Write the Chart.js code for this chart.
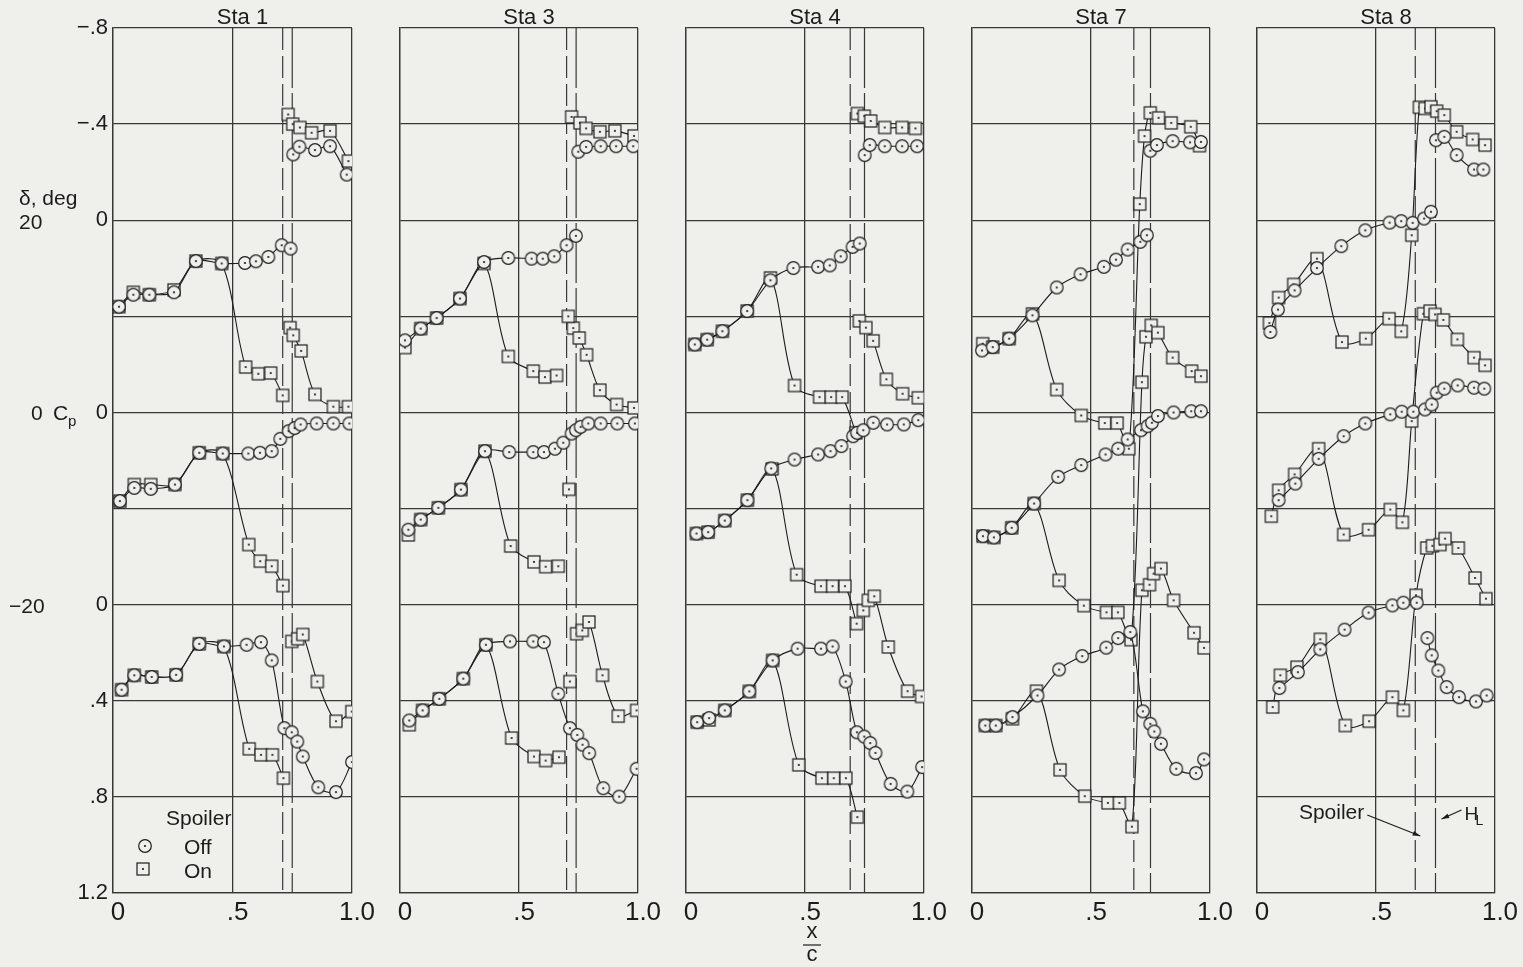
<!DOCTYPE html>
<html>
<head>
<meta charset="utf-8">
<script src="https://cdn.jsdelivr.net/npm/chart.js@4.4.0/dist/chart.umd.min.js"></script>
<style>
  html, body { margin: 0; padding: 0; background: #efefec; }
  body { width: 1523px; height: 967px; position: relative; overflow: hidden; }
  .panel { position: absolute; top: 0; height: 967px; }
</style>
</head>
<body>
<script>
// station names, x/c ticks, Cp ticks (stacked: delta 20 / 0 / -20, 0.8 apart)
const stationNames = ["Sta 1", "Sta 3", "Sta 4", "Sta 7", "Sta 8"]
const xTickValues = [0, 0.5, 1]
const xTickText = ["0", ".5", "1.0"]
const cpTickValues = [-0.8, -0.4, 0, 0.8, 1.6, 2.0, 2.4, 2.8]
const cpTickText = ["\u2212.8", "\u2212.4", "0", "0", "0", ".4", ".8", "1.2"]
const deltaShift = [0, 0.8, 1.6]   // delta = 20, 0, -20

// spoiler and hinge line chordwise stations
const spoilerX = [0.71, 0.70, 0.69, 0.68, 0.665]
const hingeX = [0.75, 0.74, 0.75, 0.75, 0.75]

// [x/c, Cp] pairs, null = break in the faired curve
// ---- Sta 1 ----
const sta1Off20 = [[0.025,0.36],[0.085,0.31],[0.152,0.31],[0.255,0.30],[0.347,0.17],[0.455,0.18],[0.552,0.178],[0.598,0.171],[0.65,0.153],[0.706,0.104],[0.743,0.118],null,[0.754,-0.274],[0.78,-0.306],[0.845,-0.292],[0.908,-0.308],[0.978,-0.19]]
const sta1On20 = [[0.025,0.36],[0.085,0.30],[0.152,0.31],[0.255,0.29],[0.347,0.17],[0.455,0.18],[0.555,0.611],[0.608,0.639],[0.66,0.636],[0.71,0.729],null,[0.733,-0.44],[0.752,-0.40],[0.782,-0.386],[0.831,-0.364],[0.908,-0.372],[0.985,-0.246]]
const sta1Off0 = [[0.029,0.369],[0.089,0.314],[0.158,0.318],[0.259,0.30],[0.361,0.168],[0.459,0.171],[0.566,0.171],[0.615,0.168],[0.664,0.161],[0.70,0.11],[0.735,0.078],[0.76,0.065],[0.785,0.05],[0.852,0.046],[0.922,0.046],[0.989,0.046]]
const sta1On0 = [[0.029,0.369],[0.089,0.30],[0.158,0.30],[0.259,0.30],[0.361,0.168],[0.459,0.171],[0.568,0.55],[0.616,0.619],[0.664,0.64],[0.711,0.721],null,[0.741,-0.353],[0.754,-0.321],[0.787,-0.256],[0.845,-0.075],[0.922,-0.024],[0.985,-0.024]]
const sta1OffM20 = [[0.036,0.354],[0.089,0.294],[0.162,0.301],[0.264,0.292],[0.361,0.163],[0.464,0.174],[0.559,0.167],[0.619,0.156],[0.664,0.232],[0.717,0.514],[0.748,0.531],[0.771,0.57],[0.794,0.632],[0.859,0.76],[0.933,0.78],[1.0,0.655]]
const sta1OnM20 = [[0.036,0.354],[0.089,0.294],[0.162,0.301],[0.264,0.292],[0.361,0.163],[0.464,0.174],[0.57,0.60],[0.619,0.625],[0.667,0.625],[0.713,0.722],null,[0.748,0.153],[0.773,0.142],[0.794,0.124],[0.855,0.32],[0.933,0.485],[0.999,0.445]]
// ---- Sta 3 ----
const sta3Off20 = [[0.021,0.50],[0.087,0.451],[0.154,0.407],[0.252,0.326],[0.353,0.174],[0.455,0.157],[0.553,0.16],[0.60,0.16],[0.648,0.15],[0.70,0.104],[0.739,0.065],null,[0.749,-0.285],[0.782,-0.305],[0.843,-0.308],[0.908,-0.308],[0.98,-0.308]]
const sta3On20 = [[0.021,0.53],[0.087,0.451],[0.154,0.407],[0.252,0.326],[0.353,0.18],[0.455,0.567],[0.56,0.628],[0.609,0.653],[0.658,0.646],null,[0.707,0.40],null,[0.721,-0.43],[0.756,-0.405],[0.782,-0.382],[0.84,-0.368],[0.903,-0.372],[0.983,-0.351]]
const sta3Off0 = [[0.035,0.488],[0.087,0.446],[0.161,0.397],[0.256,0.321],[0.357,0.161],[0.459,0.165],[0.56,0.165],[0.605,0.165],[0.651,0.151],[0.686,0.126],[0.721,0.088],[0.739,0.074],[0.759,0.06],[0.791,0.046],[0.843,0.046],[0.913,0.046],[0.987,0.046]]
const sta3On0 = [[0.035,0.51],[0.087,0.446],[0.161,0.397],[0.256,0.321],[0.357,0.161],[0.465,0.556],[0.563,0.622],[0.612,0.642],[0.665,0.64],null,[0.71,0.32],null,[0.728,-0.351],[0.753,-0.31],[0.784,-0.24],[0.84,-0.093],[0.91,-0.033],[0.983,-0.019]]
const sta3OffM20 = [[0.039,0.482],[0.095,0.44],[0.165,0.392],[0.266,0.308],[0.361,0.167],[0.462,0.153],[0.56,0.153],[0.605,0.156],[0.665,0.371],[0.714,0.514],[0.745,0.542],[0.767,0.583],[0.795,0.618],[0.854,0.764],[0.921,0.799],[0.994,0.683]]
const sta3OnM20 = [[0.039,0.50],[0.095,0.44],[0.165,0.392],[0.266,0.308],[0.361,0.167],[0.469,0.555],[0.563,0.632],[0.612,0.649],[0.668,0.635],null,[0.714,0.32],null,[0.742,0.121],[0.766,0.107],[0.794,0.072],[0.851,0.294],[0.917,0.464],[0.994,0.44]]
// ---- Sta 4 ----
const sta4Off20 = [[0.037,0.517],[0.089,0.497],[0.153,0.462],[0.257,0.378],[0.355,0.25],[0.451,0.199],[0.555,0.194],[0.604,0.188],[0.65,0.15],[0.70,0.111],[0.73,0.097],null,[0.751,-0.271],[0.772,-0.313],[0.835,-0.308],[0.908,-0.308],[0.971,-0.308]]
const sta4On20 = [[0.037,0.517],[0.089,0.497],[0.153,0.462],[0.257,0.378],[0.355,0.24],[0.456,0.688],[0.561,0.736],[0.61,0.736],[0.656,0.736],[0.714,0.885],null,[0.72,-0.444],[0.749,-0.433],[0.776,-0.413],[0.835,-0.386],[0.908,-0.386],[0.964,-0.382]]
const sta4Off0 = [[0.044,0.504],[0.093,0.498],[0.163,0.45],[0.258,0.365],[0.358,0.233],[0.456,0.196],[0.555,0.175],[0.607,0.161],[0.653,0.14],[0.702,0.099],[0.719,0.085],[0.745,0.074],[0.787,0.043],[0.845,0.05],[0.915,0.05],[0.976,0.032]]
const sta4On0 = [[0.044,0.504],[0.093,0.498],[0.163,0.45],[0.258,0.365],[0.362,0.235],[0.465,0.675],[0.567,0.723],[0.616,0.723],[0.668,0.723],[0.717,0.879],null,[0.728,-0.381],[0.756,-0.353],[0.786,-0.298],[0.842,-0.138],[0.91,-0.078],[0.976,-0.061]]
const sta4OffM20 = [[0.047,0.489],[0.097,0.472],[0.163,0.44],[0.266,0.361],[0.364,0.232],[0.469,0.183],[0.567,0.183],[0.616,0.174],[0.671,0.32],[0.718,0.531],[0.749,0.549],[0.774,0.576],[0.796,0.617],[0.86,0.746],[0.93,0.778],[0.992,0.676]]
const sta4OnM20 = [[0.047,0.489],[0.097,0.48],[0.163,0.44],[0.266,0.361],[0.364,0.232],[0.474,0.667],[0.571,0.722],[0.621,0.722],[0.672,0.722],[0.72,0.884],null,[0.745,0.024],[0.766,-0.018],[0.791,-0.035],[0.85,0.176],[0.931,0.36],[0.99,0.382]]
// ---- Sta 7 ----
const sta7Off20 = [[0.042,0.542],[0.087,0.528],[0.156,0.493],[0.254,0.396],[0.356,0.28],[0.456,0.225],[0.554,0.194],[0.605,0.164],[0.654,0.122],[0.707,0.09],[0.735,0.0625],null,[0.749,-0.289],[0.777,-0.313],[0.843,-0.329],[0.916,-0.324],[0.962,-0.326]]
const sta7On20 = [[0.045,0.514],[0.087,0.528],[0.156,0.493],[0.254,0.39],[0.356,0.705],[0.459,0.8125],[0.558,0.844],[0.61,0.844],[0.659,0.951],[0.705,-0.067],[0.725,-0.35],[0.749,-0.447],[0.784,-0.426],[0.837,-0.405],[0.919,-0.389],[0.956,-0.31]]
const sta7Off0 = [[0.046,0.515],[0.092,0.52],[0.167,0.48],[0.261,0.379],[0.362,0.268],[0.459,0.219],[0.561,0.175],[0.614,0.151],[0.654,0.1125],[0.71,0.074],[0.738,0.057],[0.756,0.043],[0.781,0.015],[0.847,0.0],[0.921,-0.005],[0.962,-0.005]]
const sta7On0 = [[0.046,0.515],[0.092,0.52],[0.167,0.48],[0.261,0.379],[0.366,0.699],[0.47,0.804],[0.565,0.832],[0.613,0.832],[0.668,0.946],[0.714,-0.126],[0.731,-0.315],[0.753,-0.3625],[0.781,-0.332],[0.843,-0.228],[0.923,-0.172],[0.962,-0.151]]
const sta7OffM20 = [[0.056,0.503],[0.10,0.503],[0.17,0.468],[0.275,0.378],[0.366,0.27],[0.463,0.214],[0.564,0.179],[0.614,0.139],[0.665,0.114],[0.718,0.444],[0.749,0.496],[0.766,0.528],[0.794,0.579],[0.858,0.683],[0.941,0.701],[0.975,0.644]]
const sta7OnM20 = [[0.056,0.503],[0.10,0.503],[0.17,0.475],[0.271,0.36],[0.37,0.6875],[0.474,0.797],[0.571,0.825],[0.619,0.825],[0.672,0.924],[0.714,-0.06],[0.746,-0.083],[0.763,-0.129],[0.794,-0.15],[0.847,-0.018],[0.933,0.117],[0.975,0.18]]
// ---- Sta 8 ----
const sta8Off20 = [[0.056,0.465],[0.088,0.372],[0.158,0.292],[0.252,0.199],[0.354,0.108],[0.455,0.042],[0.557,0.01],[0.606,0.004],[0.654,0.011],[0.702,-0.007],[0.731,-0.035],null,[0.752,-0.333],[0.787,-0.347],[0.839,-0.271],[0.912,-0.211],[0.951,-0.211]]
const sta8On20 = [[0.052,0.428],[0.091,0.322],[0.154,0.267],[0.252,0.16],[0.357,0.507],[0.457,0.493],[0.555,0.41],[0.606,0.4625],[0.65,0.0625],[0.682,-0.47],[0.706,-0.465],[0.731,-0.472],[0.755,-0.454],[0.787,-0.4375],[0.839,-0.368],[0.906,-0.336],[0.958,-0.3125]]
const sta8Off0 = [[0.091,0.365],[0.161,0.296],[0.259,0.193],[0.364,0.099],[0.455,0.046],[0.56,0.008],[0.608,-0.003],[0.657,-0.003],[0.706,-0.0125],[0.734,-0.033],[0.755,-0.082],[0.787,-0.099],[0.843,-0.1125],[0.912,-0.103],[0.955,-0.099]]
const sta8On0 = [[0.06,0.432],[0.091,0.324],[0.158,0.258],[0.259,0.151],[0.364,0.508],[0.469,0.488],[0.56,0.404],[0.611,0.457],[0.65,0.036],[0.699,-0.411],[0.727,-0.422],[0.748,-0.408],[0.783,-0.385],[0.842,-0.304],[0.912,-0.228],[0.958,-0.196]]
const sta8OffM20 = [[0.094,0.347],[0.172,0.281],[0.266,0.186],[0.368,0.104],[0.469,0.033],[0.569,0.003],[0.615,-0.008],[0.671,-0.008],null,[0.716,0.139],[0.734,0.211],[0.762,0.274],[0.797,0.343],[0.849,0.385],[0.92,0.403],[0.965,0.378]]
const sta8OnM20 = [[0.066,0.426],[0.098,0.294],[0.168,0.26],[0.266,0.144],[0.371,0.503],[0.471,0.485],[0.569,0.385],[0.615,0.44],[0.668,-0.039],[0.713,-0.236],[0.737,-0.245],[0.769,-0.25],[0.79,-0.275],[0.846,-0.236],[0.916,-0.111],[0.962,-0.025]]

const spoilerOff = [
    [sta1Off20, sta1Off0, sta1OffM20],
    [sta3Off20, sta3Off0, sta3OffM20],
    [sta4Off20, sta4Off0, sta4OffM20],
    [sta7Off20, sta7Off0, sta7OffM20],
    [sta8Off20, sta8Off0, sta8OffM20]
]
const spoilerOn = [
    [sta1On20, sta1On0, sta1OnM20],
    [sta3On20, sta3On0, sta3OnM20],
    [sta4On20, sta4On0, sta4OnM20],
    [sta7On20, sta7On0, sta7OnM20],
    [sta8On20, sta8On0, sta8OnM20]
]

const ink = "#1c1c1c"
const gridInk = "#383838"
const paper = "#efefec"
const family = '"Liberation Sans", Arial, sans-serif'

// page layout of the five plot frames
const plotLeft = [113, 400, 686, 972, 1257]
const plotRight = [352, 638, 924, 1210, 1495]

function makeMarker(shape){
    const c = document.createElement("canvas")
    c.width = 16
    c.height = 16
    const g = c.getContext("2d")
    g.fillStyle = paper
    g.strokeStyle = ink
    g.lineWidth = 1.2
    if(shape == "circle"){
        g.beginPath()
        g.arc(8, 8, 6.3, 0, Math.PI * 2)
        g.fill()
        g.stroke()
    } else {
        g.fillRect(2, 2, 12, 12)
        g.strokeRect(2, 2, 12, 12)
    }
    g.fillStyle = ink
    g.beginPath()
    g.arc(8, 8, 1.1, 0, Math.PI * 2)
    g.fill()
    return c
}
const circleMark = makeMarker("circle")
const squareMark = makeMarker("square")

function toPoints(list, shift){
    const pts = []
    for(const p of list){
        if(p === null){
            pts.push({x: pts[pts.length - 1].x, y: null})
        } else {
            pts.push({x: p[0], y: p[1] + shift})
        }
    }
    return pts
}

function tickText(values, texts, v){
    for(let k = 0; k < values.length; k++){
        if(Math.abs(values[k] - v) < 1e-6) return texts[k]
    }
    return ""
}

function arrow(ctx, x1, y1, x2, y2){
    ctx.beginPath()
    ctx.moveTo(x1, y1)
    ctx.lineTo(x2, y2)
    ctx.stroke()
    const a = Math.atan2(y2 - y1, x2 - x1)
    ctx.beginPath()
    ctx.moveTo(x2, y2)
    ctx.lineTo(x2 - 8 * Math.cos(a - 0.3), y2 - 8 * Math.sin(a - 0.3))
    ctx.lineTo(x2 - 8 * Math.cos(a + 0.3), y2 - 8 * Math.sin(a + 0.3))
    ctx.closePath()
    ctx.fill()
}

// titles and the hand lettering around the frames
const lettering = {
    id: "lettering",
    afterDraw(chart, args, opts){
        const ctx = chart.ctx
        const xs = chart.scales.x
        const p = opts.panel
        ctx.save()
        ctx.fillStyle = ink
        ctx.strokeStyle = ink
        ctx.lineWidth = 1.2
        ctx.textBaseline = "middle"
        ctx.textAlign = "center"
        ctx.font = "22px " + family
        ctx.fillText(stationNames[p], xs.getPixelForValue(0.5) + 10, 18)

        if(p == 0){
            ctx.textAlign = "left"
            ctx.font = "21px " + family
            ctx.fillText("\u03b4, deg", 19, 199)
            ctx.fillText("20", 19, 223)
            ctx.fillText("0", 31, 414)
            ctx.fillText("C", 53, 414)
            ctx.font = "15px " + family
            ctx.fillText("p", 68, 422)
            ctx.font = "21px " + family
            ctx.fillText("\u221220", 9, 607)
            // legend
            ctx.fillText("Spoiler", 166, 819)
            ctx.fillText("Off", 184, 848)
            ctx.fillText("On", 184, 872)
            ctx.drawImage(circleMark, 145 - 8, 846 - 8)
            ctx.drawImage(squareMark, 143 - 8, 869 - 8)
        }
        if(p == 2){
            const cx = xs.getPixelForValue(0.5) + 7
            ctx.font = "22px " + family
            ctx.fillText("x", cx, 932)
            ctx.beginPath()
            ctx.moveTo(cx - 9, 945)
            ctx.lineTo(cx + 9, 945)
            ctx.stroke()
            ctx.fillText("c", cx, 955)
        }
        if(p == 4){
            const sx = xs.getPixelForValue(spoilerX[p])
            const hx = xs.getPixelForValue(hingeX[p])
            ctx.font = "21px " + family
            ctx.textAlign = "right"
            ctx.fillText("Spoiler", sx - 51, 813)
            arrow(ctx, sx - 48, 815, sx + 5, 836)
            ctx.textAlign = "left"
            ctx.font = "19px " + family
            ctx.fillText("H", hx + 29, 815)
            ctx.font = "14px " + family
            ctx.fillText("L", hx + 40, 821)
            arrow(ctx, hx + 26, 810, hx + 6, 819)
        }
        ctx.restore()
    }
}

for(let i = 0; i < stationNames.length; i++){
    const canvasLeft = i == 0 ? 0 : plotLeft[i] - 20
    const padRight = 24
    const box = document.createElement("div")
    box.className = "panel"
    box.style.left = canvasLeft + "px"
    box.style.width = (plotRight[i] - canvasLeft + padRight) + "px"
    const canvas = document.createElement("canvas")
    box.appendChild(canvas)
    document.body.appendChild(box)

    const datasets = []
    datasets.push({
        data: [{x: spoilerX[i], y: -0.8}, {x: spoilerX[i], y: 2.8}],
        borderColor: gridInk, borderWidth: 1.2, borderDash: [22, 6],
        pointRadius: 0, order: 3
    })
    datasets.push({
        data: [{x: hingeX[i], y: -0.8}, {x: hingeX[i], y: 2.8}],
        borderColor: gridInk, borderWidth: 1.2, borderDash: [60, 5],
        pointRadius: 0, order: 3
    })
    for(let d = 0; d < 3; d++){
        datasets.push({
            label: "Off",
            data: toPoints(spoilerOff[i][d], deltaShift[d]),
            borderColor: ink, borderWidth: 1.1,
            pointStyle: circleMark, pointRadius: 6,
            tension: 0.3,
            order: 1
        })
        datasets.push({
            label: "On",
            data: toPoints(spoilerOn[i][d], deltaShift[d]),
            borderColor: ink, borderWidth: 1.1,
            pointStyle: squareMark, pointRadius: 6,
            tension: 0.3,
            order: 2
        })
    }

    new Chart(canvas, {
        type: "line",
        data: {datasets: datasets},
        plugins: [lettering],
        options: {
            responsive: true,
            maintainAspectRatio: false,
            animation: false,
            events: [],
            layout: {padding: {top: 28, bottom: 0, left: i == 0 ? 0 : 20, right: padRight}},
            plugins: {
                legend: {display: false},
                tooltip: {enabled: false},
                title: {display: false},
                lettering: {panel: i}
            },
            scales: {
                x: {
                    type: "linear", min: 0, max: 1,
                    afterFit: s => { s.height = 74 },
                    grid: {color: gridInk, lineWidth: 1.3, drawTicks: false},
                    border: {color: gridInk, width: 1.3},
                    ticks: {
                        stepSize: 0.5, padding: 4, labelOffset: 5, maxRotation: 0,
                        color: ink, font: {size: 26, family: family},
                        callback: v => tickText(xTickValues, xTickText, v)
                    }
                },
                y: {
                    type: "linear", reverse: true, min: -0.8, max: 2.8,
                    afterFit: s => { s.width = i == 0 ? 113 : 0 },
                    grid: {color: gridInk, lineWidth: 1.3, drawTicks: false},
                    border: {color: gridInk, width: 1.3},
                    ticks: {
                        display: i == 0, stepSize: 0.4, autoSkip: false, padding: 5,
                        color: ink, font: {size: 22, family: family},
                        callback: v => tickText(cpTickValues, cpTickText, v)
                    }
                }
            }
        }
    })
}
</script>
</body>
</html>
